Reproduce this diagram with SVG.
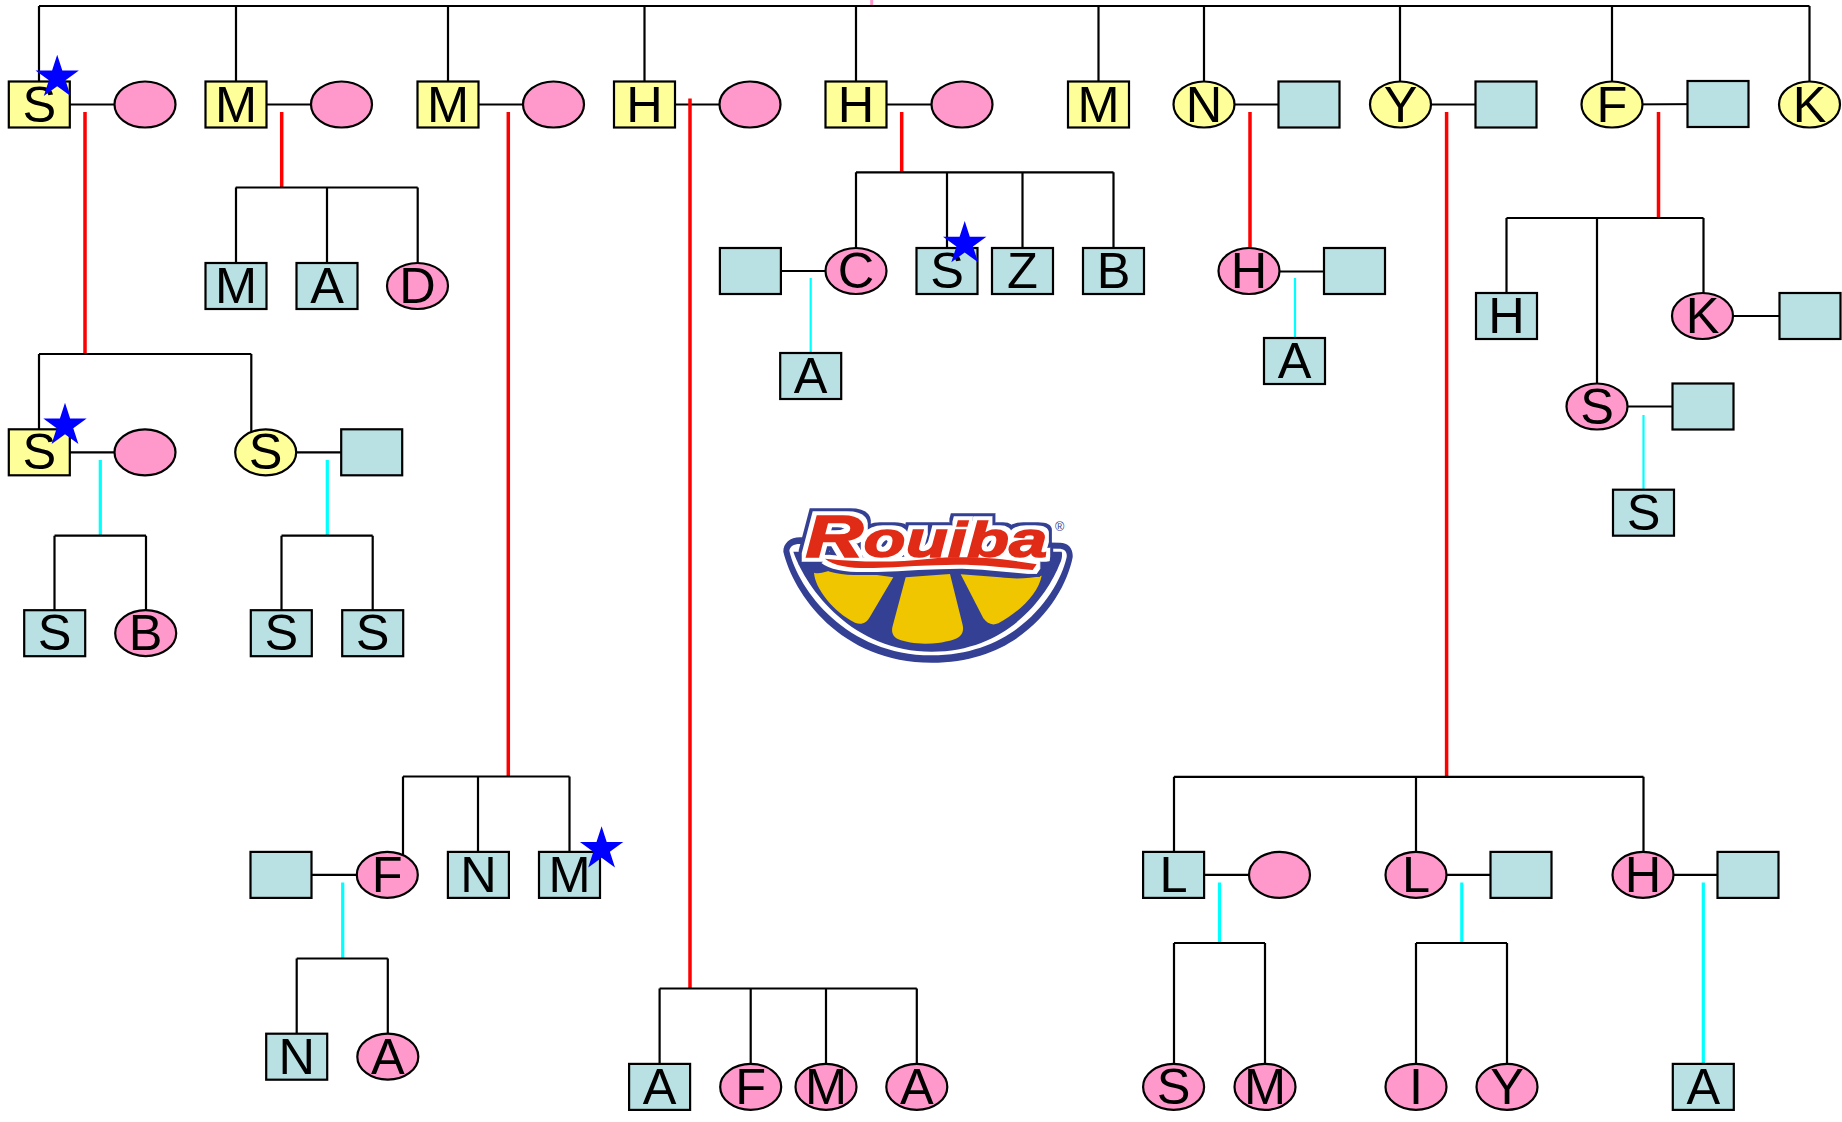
<svg xmlns="http://www.w3.org/2000/svg" width="1842" height="1122" viewBox="0 0 1842 1122">
<style>
.y{fill:#ffff99}.p{fill:#ff99cc}.b{fill:#b9e0e3}
rect,ellipse{stroke:#000;stroke-width:2.2}
text.t{font-family:"Liberation Sans",Arial,sans-serif;font-size:50.5px;fill:#000;text-anchor:middle}
#connectors path{fill:none;stroke:#000;stroke-width:2.2}
#connectors .r{stroke:#ff0000;stroke-width:3.5}
#connectors .c{stroke:#00ffff;stroke-width:3.2}
#connectors .c2{stroke:#00ffff;stroke-width:2.2}
#connectors .k{stroke:#ff99cc;stroke-width:3}
.star{fill:#0000ff}
</style>
<defs>
<rect id="bx" x="-30.5" y="-23" width="61" height="46"/>
<ellipse id="el" cx="0" cy="0" rx="30.5" ry="23"/>
<path id="st" d="M0 -22.8L5.12 -7.05L21.68 -7.05L8.28 2.69L13.4 18.45L0 8.71L-13.4 18.45L-8.28 2.69L-21.68 -7.05L-5.12 -7.05Z"/>
<filter id="halo" filterUnits="userSpaceOnUse" x="90" y="30" width="980" height="320" color-interpolation-filters="sRGB">
<feMorphology in="SourceAlpha" operator="dilate" radius="22" result="d1"/>
<feFlood flood-color="#344093"/><feComposite in2="d1" operator="in" result="blue"/>
<feMorphology in="SourceAlpha" operator="dilate" radius="12" result="d2"/>
<feFlood flood-color="#ffffff"/><feComposite in2="d2" operator="in" result="white"/>
<feMerge><feMergeNode in="blue"/><feMergeNode in="white"/><feMergeNode in="SourceGraphic"/></feMerge>
</filter>
</defs>
<rect width="1842" height="1122" fill="#fff" style="stroke:none"/>
<g id="connectors">
<path class="k" d="M871.7 0V6"/>
<path d="M39 6H1809.5M39 6V82M236 6V82M448 6V82M644.5 6V82M856 6V82M1098.5 6V82M1204 6V82M1400 6V82M1612 6V82M1809.5 6V82"/>
<path d="M39 104.5H145M236 104.5H341.5M448 104.5H553.5M644.5 104.5H750M856 104.5H962M1204 104.5H1309M1400 104.5H1506M1612 104.5L1718 104"/>
<path class="r" d="M85 112V354M281.7 112V187.5M508.3 112V777M690 98.5V988.5M901.7 112V172.3M1250 112V248.5M1446.6 112V777M1658.5 112V218"/>
<path d="M235.7 187.5H417.7M236 187.5V263M327 187.5V263M417.7 187.5V263"/>
<path d="M856 172.3H1113.5M856 172.3V248M947 172.3V248M1022.5 172.3V248M1113.5 172.3V248M750.4 271H856"/>
<path class="c2" d="M810.7 278V353M1295 278V338M1643.5 415V490"/>
<path d="M1249 271.5H1354.5M1506.5 218H1703.5M1506.5 218V294M1597 218V384M1703.5 218V293M1702.5 316H1810M1597 406.5H1703"/>
<path d="M39 354H251.3M39 354V430M251.3 354V432M39 452.3H145M265.7 452.3H371.7"/>
<path class="c" d="M100.3 460V535.7M327.3 460V535.7"/>
<path d="M54.5 535.7H146M54.5 535.7V612M146 535.7V612M281.5 535.7H372.7M281.5 535.7V612M372.7 535.7V612"/>
<path d="M403 776.5H569.5M403 776.5V856M478 776.5V853M569.5 776.5V853M281 874.9H387"/>
<path class="c" d="M342.7 882.5V958.5"/>
<path d="M296.7 958.5H387.8M296.7 958.5V1035M387.8 958.5V1035"/>
<path d="M659.6 988.5H916.8M659.6 988.5V1065M750.7 988.5V1065M826 988.5V1065M916.8 988.5V1065"/>
<path d="M1174 776.8H1643.5M1174 776.8V853M1416 776.8V853M1643.5 776.8V853M1173.6 874.9H1279.5M1416 874.9H1521M1643 874.9H1748"/>
<path class="c" d="M1219.5 882.5V943M1461.8 882.5V943M1703.3 882.5V1063.5"/>
<path d="M1174 943H1265M1174 943V1065M1265 943V1065M1416 943H1507M1416 943V1065M1507 943V1065"/>
</g>
<g id="n1"><use href="#bx" class="y" x="39.3" y="104.5"/><text class="t" x="39.3" y="121.5">S</text></g>
<g id="n2"><use href="#el" class="p" x="145" y="104.5"/></g>
<g id="n3"><use href="#bx" class="y" x="236" y="104.5"/><text class="t" x="236" y="121.5">M</text></g>
<g id="n4"><use href="#el" class="p" x="341.5" y="104.5"/></g>
<g id="n5"><use href="#bx" class="y" x="448" y="104.5"/><text class="t" x="448" y="121.5">M</text></g>
<g id="n6"><use href="#el" class="p" x="553.5" y="104.5"/></g>
<g id="n7"><use href="#bx" class="y" x="644.5" y="104.5"/><text class="t" x="644.5" y="121.5">H</text></g>
<g id="n8"><use href="#el" class="p" x="750" y="104.5"/></g>
<g id="n9"><use href="#bx" class="y" x="856" y="104.5"/><text class="t" x="856" y="121.5">H</text></g>
<g id="n10"><use href="#el" class="p" x="962" y="104.5"/></g>
<g id="n11"><use href="#bx" class="y" x="1098.5" y="104.5"/><text class="t" x="1098.5" y="121.5">M</text></g>
<g id="n12"><use href="#el" class="y" x="1204" y="104.5"/><text class="t" x="1204" y="121.5">N</text></g>
<g id="n13"><use href="#bx" class="b" x="1309" y="104.5"/></g>
<g id="n14"><use href="#el" class="y" x="1400.5" y="104.5"/><text class="t" x="1400.5" y="121.5">Y</text></g>
<g id="n15"><use href="#bx" class="b" x="1506" y="104.5"/></g>
<g id="n16"><use href="#el" class="y" x="1612" y="104.5"/><text class="t" x="1612" y="121.5">F</text></g>
<g id="n17"><use href="#bx" class="b" x="1718" y="104"/></g>
<g id="n18"><use href="#el" class="y" x="1809.5" y="104.5"/><text class="t" x="1809.5" y="121.5">K</text></g>
<g id="n19"><use href="#bx" class="b" x="236" y="286"/><text class="t" x="236" y="303">M</text></g>
<g id="n20"><use href="#bx" class="b" x="327" y="286"/><text class="t" x="327" y="303">A</text></g>
<g id="n21"><use href="#el" class="p" x="417.5" y="286"/><text class="t" x="417.5" y="303">D</text></g>
<g id="n22"><use href="#bx" class="b" x="750.4" y="271"/></g>
<g id="n23"><use href="#el" class="p" x="856" y="271"/><text class="t" x="856" y="288">C</text></g>
<g id="n24"><use href="#bx" class="b" x="947" y="271"/><text class="t" x="947" y="288">S</text></g>
<g id="n25"><use href="#bx" class="b" x="1022.5" y="271"/><text class="t" x="1022.5" y="288">Z</text></g>
<g id="n26"><use href="#bx" class="b" x="1113.5" y="271"/><text class="t" x="1113.5" y="288">B</text></g>
<g id="n27"><use href="#el" class="p" x="1249" y="271"/><text class="t" x="1249" y="288">H</text></g>
<g id="n28"><use href="#bx" class="b" x="1354.5" y="271"/></g>
<g id="n29"><use href="#bx" class="b" x="810.7" y="376"/><text class="t" x="810.7" y="393">A</text></g>
<g id="n30"><use href="#bx" class="b" x="1294.5" y="361"/><text class="t" x="1294.5" y="378">A</text></g>
<g id="n31"><use href="#bx" class="b" x="1506.5" y="316"/><text class="t" x="1506.5" y="333">H</text></g>
<g id="n32"><use href="#el" class="p" x="1702.5" y="316"/><text class="t" x="1702.5" y="333">K</text></g>
<g id="n33"><use href="#bx" class="b" x="1810" y="316"/></g>
<g id="n34"><use href="#el" class="p" x="1597" y="406.5"/><text class="t" x="1597" y="423.5">S</text></g>
<g id="n35"><use href="#bx" class="b" x="1703" y="406.5"/></g>
<g id="n36"><use href="#bx" class="b" x="1643.5" y="512.7"/><text class="t" x="1643.5" y="529.7">S</text></g>
<g id="n37"><use href="#bx" class="y" x="39.3" y="452.3"/><text class="t" x="39.3" y="469.3">S</text></g>
<g id="n38"><use href="#el" class="p" x="145" y="452.3"/></g>
<g id="n39"><use href="#el" class="y" x="265.7" y="452.3"/><text class="t" x="265.7" y="469.3">S</text></g>
<g id="n40"><use href="#bx" class="b" x="371.7" y="452.3"/></g>
<g id="n41"><use href="#bx" class="b" x="54.7" y="633.2"/><text class="t" x="54.7" y="650.2">S</text></g>
<g id="n42"><use href="#el" class="p" x="145.7" y="633.2"/><text class="t" x="145.7" y="650.2">B</text></g>
<g id="n43"><use href="#bx" class="b" x="281.3" y="633.2"/><text class="t" x="281.3" y="650.2">S</text></g>
<g id="n44"><use href="#bx" class="b" x="372.7" y="633.2"/><text class="t" x="372.7" y="650.2">S</text></g>
<g id="n45"><use href="#bx" class="b" x="281" y="874.9"/></g>
<g id="n46"><use href="#el" class="p" x="387.3" y="874.9"/><text class="t" x="387.3" y="891.9">F</text></g>
<g id="n47"><use href="#bx" class="b" x="478.4" y="874.9"/><text class="t" x="478.4" y="891.9">N</text></g>
<g id="n48"><use href="#bx" class="b" x="569.5" y="874.9"/><text class="t" x="569.5" y="891.9">M</text></g>
<g id="n49"><use href="#bx" class="b" x="296.7" y="1056.7"/><text class="t" x="296.7" y="1073.7">N</text></g>
<g id="n50"><use href="#el" class="p" x="387.8" y="1056.7"/><text class="t" x="387.8" y="1073.7">A</text></g>
<g id="n51"><use href="#bx" class="b" x="659.6" y="1086.9"/><text class="t" x="659.6" y="1103.9">A</text></g>
<g id="n52"><use href="#el" class="p" x="750.7" y="1086.9"/><text class="t" x="750.7" y="1103.9">F</text></g>
<g id="n53"><use href="#el" class="p" x="826" y="1086.9"/><text class="t" x="826" y="1103.9">M</text></g>
<g id="n54"><use href="#el" class="p" x="916.8" y="1086.9"/><text class="t" x="916.8" y="1103.9">A</text></g>
<g id="n55"><use href="#bx" class="b" x="1173.6" y="874.9"/><text class="t" x="1173.6" y="891.9">L</text></g>
<g id="n56"><use href="#el" class="p" x="1279.5" y="874.9"/></g>
<g id="n57"><use href="#el" class="p" x="1416" y="874.9"/><text class="t" x="1416" y="891.9">L</text></g>
<g id="n58"><use href="#bx" class="b" x="1521" y="874.9"/></g>
<g id="n59"><use href="#el" class="p" x="1643" y="874.9"/><text class="t" x="1643" y="891.9">H</text></g>
<g id="n60"><use href="#bx" class="b" x="1748" y="874.9"/></g>
<g id="n61"><use href="#el" class="p" x="1173.6" y="1086.9"/><text class="t" x="1173.6" y="1103.9">S</text></g>
<g id="n62"><use href="#el" class="p" x="1265" y="1086.9"/><text class="t" x="1265" y="1103.9">M</text></g>
<g id="n63"><use href="#el" class="p" x="1416" y="1086.9"/><text class="t" x="1416" y="1103.9">I</text></g>
<g id="n64"><use href="#el" class="p" x="1507" y="1086.9"/><text class="t" x="1507" y="1103.9">Y</text></g>
<g id="n65"><use href="#bx" class="b" x="1703.3" y="1086.9"/><text class="t" x="1703.3" y="1103.9">A</text></g>
<g id="stars">
<use href="#st" class="star" x="57.2" y="77.5"/>
<use href="#st" class="star" x="65" y="425.5"/>
<use href="#st" class="star" x="964.7" y="243.8"/>
<use href="#st" class="star" x="601.6" y="849"/>
</g>
<g id="logo" transform="translate(740 480) scale(.33333)">
<path fill="#344093" d="M130 215C130 190 150 172 180 172L960 188C985 188 1000 205 998 232C975 350 850 548 575 548C300 548 160 340 130 215Z"/>
<path fill="#fff" d="M148 212C150 200 160 192 180 192L955 206C975 206 982 215 980 232C955 340 830 526 575 526C320 526 175 330 148 212Z"/>
<path fill="#344093" d="M160 215L965 215C968 225 965 240 960 250C925 340 810 515 575 515C340 515 200 330 160 215Z"/>
<path fill="#efc600" d="M222 278C240 283 260 275 285 268L460 292L390 410C380 428 365 436 345 428C280 395 225 325 222 278Z"/>
<path fill="#efc600" d="M497 292L630 282L668 435C675 470 650 480 600 488C550 495 505 490 475 478C458 470 453 455 458 438Z"/>
<path fill="#efc600" d="M662 283L780 292C830 298 870 295 905 287C895 340 840 395 775 430C755 438 742 430 730 415Z"/>
<g filter="url(#halo)">
<path fill="#e02b17" d="M255 236C350 245 450 250 570 236C680 226 800 236 890 253L878 270L770 260C640 246 520 260 400 264C340 266 280 258 255 236Z"/>
<text transform="translate(196 232) scale(1.36 1)" font-family="'Liberation Sans',Arial,sans-serif" font-weight="700" font-style="italic" font-size="152" fill="#e02b17" stroke="#e02b17" stroke-width="4"><tspan font-size="178">R</tspan>ouiba</text>
</g>
<text x="945" y="152" font-family="'Liberation Sans',Arial,sans-serif" font-size="38" fill="#344093">®</text>
</g>
</svg>
